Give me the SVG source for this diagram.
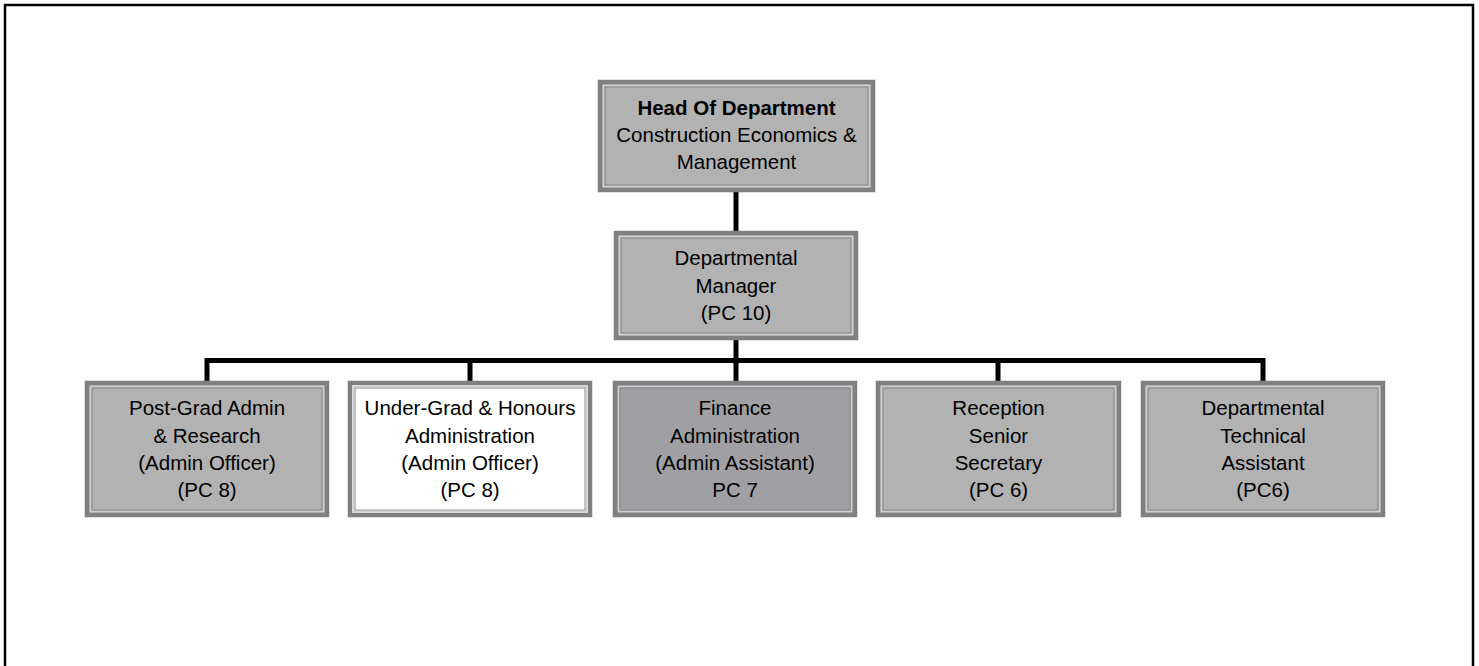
<svg xmlns="http://www.w3.org/2000/svg" width="1479" height="666" viewBox="0 0 1479 666">
<style>
.t{font-family:"Liberation Sans",Arial,sans-serif;font-size:20.5px;fill:#000;text-anchor:middle}
.b{font-weight:bold}
.outer{stroke:#808080;stroke-width:4.5}
.gap{fill:none;stroke:#cfcfcf;stroke-width:1.5}
.inner{fill:none;stroke:#8a8a8a;stroke-width:1}
.g{fill:#b2b2b2}
.d{fill:#a0a0a4}
.w{fill:#ffffff}
.c{stroke:#000;stroke-width:5;fill:none}
</style>
<rect x="0" y="0" width="1479" height="666" fill="#fff"/>
<path d="M5,680 V5 H1473 V680" fill="none" stroke="#000" stroke-width="2.5"/>
<g id="connectors">
<line class="c" x1="736" y1="192" x2="736" y2="231"/>
<line class="c" x1="736" y1="340" x2="736" y2="381"/>
<line class="c" x1="207" y1="360.5" x2="1263" y2="360.5"/>
<line class="c" x1="207" y1="358" x2="207" y2="381"/>
<line class="c" x1="470" y1="358" x2="470" y2="381"/>
<line class="c" x1="998" y1="358" x2="998" y2="381"/>
<line class="c" x1="1263" y1="358" x2="1263" y2="381"/>
</g>
<g id="head">
<rect class="outer g" x="600" y="82" width="273" height="108"/>
<rect class="gap" x="603.5" y="85.5" width="266" height="101"/>
<rect class="inner" x="605" y="87" width="263" height="98"/>
<text class="t b" x="736.5" y="115">Head Of Department</text>
<text class="t" x="736.5" y="142">Construction Economics &amp;</text>
<text class="t" x="736.5" y="169">Management</text>
</g>
<g id="manager">
<rect class="outer g" x="616" y="233" width="240" height="105"/>
<rect class="gap" x="619.5" y="236.5" width="233" height="98"/>
<rect class="inner" x="621" y="238" width="230" height="95"/>
<text class="t" x="736" y="265">Departmental</text>
<text class="t" x="736" y="292.5">Manager</text>
<text class="t" x="736" y="320">(PC 10)</text>
</g>
<g id="postgrad">
<rect class="outer g" x="87" y="383" width="240" height="132"/>
<rect class="gap" x="90.5" y="386.5" width="233" height="125"/>
<rect class="inner" x="92" y="388" width="230" height="122"/>
<text class="t" x="207" y="415">Post-Grad Admin</text>
<text class="t" x="207" y="442.5">&amp; Research</text>
<text class="t" x="207" y="470">(Admin Officer)</text>
<text class="t" x="207" y="497">(PC 8)</text>
</g>
<g id="undergrad">
<rect class="outer w" x="350" y="383" width="240" height="132"/>
<rect class="gap" x="353.5" y="386.5" width="233" height="125"/>
<rect class="inner" x="355" y="388" width="230" height="122"/>
<text class="t" x="470" y="415">Under-Grad &amp; Honours</text>
<text class="t" x="470" y="442.5">Administration</text>
<text class="t" x="470" y="470">(Admin Officer)</text>
<text class="t" x="470" y="497">(PC 8)</text>
</g>
<g id="finance">
<rect class="outer d" x="615" y="383" width="240" height="132"/>
<rect class="gap" x="618.5" y="386.5" width="233" height="125"/>
<rect class="inner" x="620" y="388" width="230" height="122"/>
<text class="t" x="735" y="415">Finance</text>
<text class="t" x="735" y="442.5">Administration</text>
<text class="t" x="735" y="470">(Admin Assistant)</text>
<text class="t" x="735" y="497">PC 7</text>
</g>
<g id="reception">
<rect class="outer g" x="878" y="383" width="241" height="132"/>
<rect class="gap" x="881.5" y="386.5" width="234" height="125"/>
<rect class="inner" x="883" y="388" width="231" height="122"/>
<text class="t" x="998.5" y="415">Reception</text>
<text class="t" x="998.5" y="442.5">Senior</text>
<text class="t" x="998.5" y="470">Secretary</text>
<text class="t" x="998.5" y="497">(PC 6)</text>
</g>
<g id="technical">
<rect class="outer g" x="1143" y="383" width="240" height="132"/>
<rect class="gap" x="1146.5" y="386.5" width="233" height="125"/>
<rect class="inner" x="1148" y="388" width="230" height="122"/>
<text class="t" x="1263" y="415">Departmental</text>
<text class="t" x="1263" y="442.5">Technical</text>
<text class="t" x="1263" y="470">Assistant</text>
<text class="t" x="1263" y="497">(PC6)</text>
</g>
</svg>
